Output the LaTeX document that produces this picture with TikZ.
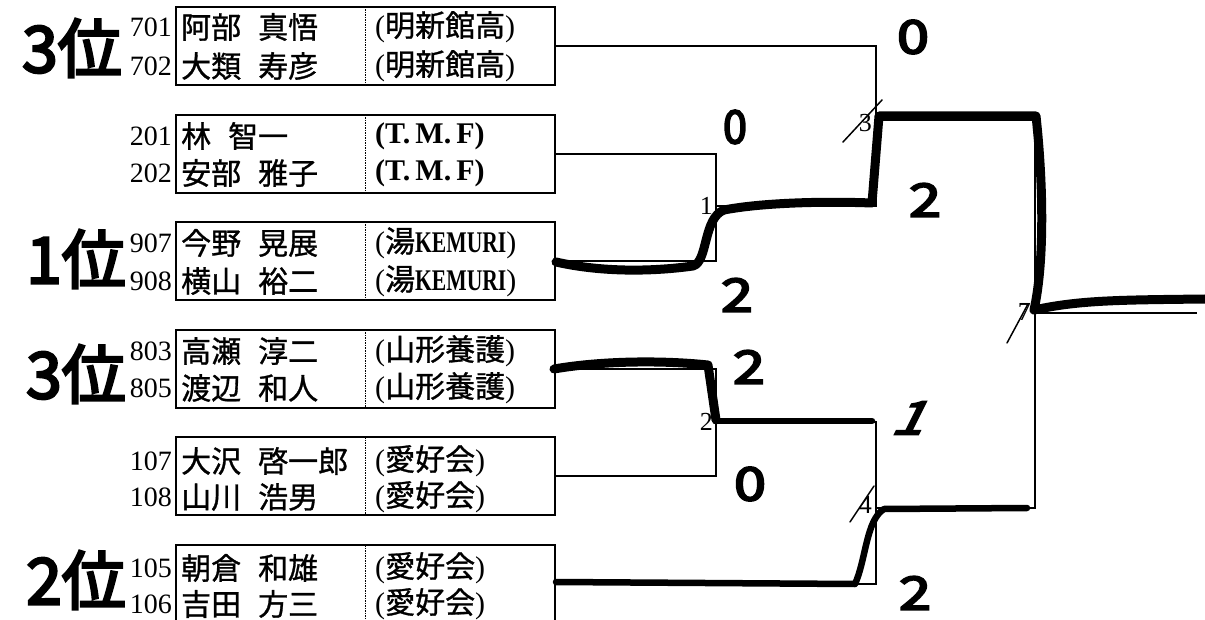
\documentclass[tikz,border=0pt]{standalone}
\usepackage{fontspec}
\setmainfont{Liberation Serif}
\newfontfamily\jp[FakeBold=1]{Noto Sans CJK JP}
\newfontfamily\hw[FakeBold=4]{Noto Sans CJK JP}
\newcommand{\gap}{\hspace{17pt}}
\begin{document}
\begin{tikzpicture}[x=1pt,y=-1pt]
\tikzset{
  entry/.style={draw, line width=2pt, minimum width=379pt, minimum height=78pt, inner sep=0pt, outer sep=0pt},
  bracket/.style={line width=1.6pt},
  divider/.style={line width=1.5pt, densely dotted},
  win/.style={line width=9pt, line cap=round, line join=round},
  winthin/.style={line width=6.5pt, line cap=round, line join=round},
  pen/.style={line width=1.5pt, line cap=round},
  num/.style={anchor=east, inner sep=0pt, font=\fontsize{28}{28}\selectfont},
  nm/.style={anchor=west, inner sep=0pt, font=\jp\fontsize{30}{30}\selectfont},
  aff/.style={anchor=west, inner sep=0pt, font=\fontsize{30}{30}\selectfont},
  mlabel/.style={anchor=east, inner sep=0pt, font=\fontsize{26}{26}\selectfont},
  score/.style={inner sep=0pt, xscale=1.25, font=\hw\fontsize{46}{46}\selectfont},
  rank/.style={inner sep=0pt, font=\hw\fontsize{64}{64}\selectfont},
}
\useasboundingbox (0,0) rectangle (1205,620);
\fill[white] (0,0) rectangle (1205,620);

% ---- entry boxes ----
\node[entry] (b1) at (365.5,46) {};
\node[entry] (b2) at (365.5,154) {};
\node[entry] (b3) at (365.5,261) {};
\node[entry] (b4) at (365.5,369) {};
\node[entry] (b5) at (365.5,476) {};
\node[entry] (b6) at (365.5,584) {};
\foreach \b in {b1,b2,b3,b4,b5,b6} \draw[divider] (\b.north) -- (\b.south);

% ---- hand-written ranks (under the printed text) ----
\node[rank] (r1) at (72,48) {3位};
\node[rank] (r2) at (76,259) {1位};
\node[rank] (r3) at (76,374) {3位};
\node[rank] (r4) at (76,580) {2位};

% ---- rows ----
\node[num] (n701) at (172,27) {701};
\node[nm]  (p701) at (181,27) {阿部\gap 真悟};
\node[aff] (a701) at (375,27) {(\jp 明新館高\rmfamily)};
\node[num] (n702) at (172,66) {702};
\node[nm]  (p702) at (181,66) {大類\gap 寿彦};
\node[aff] (a702) at (375,66) {(\jp 明新館高\rmfamily)};

\node[num] (n201) at (172,136) {201};
\node[nm]  (p201) at (181,136) {林\gap 智一};
\node[aff] (a201) at (375,136) {\bfseries(T.\,M.\,F)};
\node[num] (n202) at (172,173) {202};
\node[nm]  (p202) at (181,173) {安部\gap 雅子};
\node[aff] (a202) at (375,173) {\bfseries(T.\,M.\,F)};

\node[num] (n907) at (172,243) {907};
\node[nm]  (p907) at (181,243) {今野\gap 晃展};
\node[aff] (a907) at (375,243) {(\jp 湯\rmfamily\bfseries\scalebox{0.72}[1]{KEMURI}\mdseries)};
\node[num] (n908) at (172,281) {908};
\node[nm]  (p908) at (181,281) {横山\gap 裕二};
\node[aff] (a908) at (375,281) {(\jp 湯\rmfamily\bfseries\scalebox{0.72}[1]{KEMURI}\mdseries)};

\node[num] (n803) at (172,351) {803};
\node[nm]  (p803) at (181,351) {高瀬\gap 淳二};
\node[aff] (a803) at (375,351) {(\jp 山形養護\rmfamily)};
\node[num] (n805) at (172,388) {805};
\node[nm]  (p805) at (181,388) {渡辺\gap 和人};
\node[aff] (a805) at (375,388) {(\jp 山形養護\rmfamily)};

\node[num] (n107) at (172,461) {107};
\node[nm]  (p107) at (181,461) {大沢\gap 啓一郎};
\node[aff] (a107) at (375,461) {(\jp 愛好会\rmfamily)};
\node[num] (n108) at (172,497) {108};
\node[nm]  (p108) at (181,497) {山川\gap 浩男};
\node[aff] (a108) at (375,497) {(\jp 愛好会\rmfamily)};

\node[num] (n105) at (172,568) {105};
\node[nm]  (p105) at (181,568) {朝倉\gap 和雄};
\node[aff] (a105) at (375,568) {(\jp 愛好会\rmfamily)};
\node[num] (n106) at (172,604) {106};
\node[nm]  (p106) at (181,604) {吉田\gap 方三};
\node[aff] (a106) at (375,604) {(\jp 愛好会\rmfamily)};

% ---- bracket ----
\coordinate (m1) at (716,206);
\coordinate (m2) at (716,422);
\coordinate (m3) at (876,120);
\coordinate (m4) at (876,508);
\coordinate (m7) at (1035,313);
\coordinate (fin) at (1197,313);
\draw[bracket] (b2.east) -| (m1);
\draw[bracket] (b3.east) -| (m1);
\draw[bracket] (b4.east) -| (m2);
\draw[bracket] (b5.east) -| (m2);
\draw[bracket] (b1.east) -| (m3);
\draw[bracket] (m1) -| (m3);
\draw[bracket] (m2) -| (m4);
\draw[bracket] (b6.east) -| (m4);
\draw[bracket] (m3) -| (m7);
\draw[bracket] (m4) -| (m7);
\draw[bracket] (m7) -- (fin);

% ---- match numbers ----
\node[mlabel] (l1) at (713,206) {1};
\node[mlabel] (l2) at (713,422) {2};
\node[mlabel] (l3) at (872,123) {3};
\node[mlabel] (l4) at (872,505) {4};
\node[mlabel] (l7) at (1031,312) {7};
\draw[pen] (843,142) -- (882,100);
\draw[pen] (850,522) -- (874,486);
\draw[pen] (1007,343) -- (1028,304);

% ---- hand-drawn winner paths ----
\draw[win] (556,262) .. controls (600,272) and (650,272) .. (693,266)
  .. controls (708,262) and (703,218) .. (724,210)
  .. controls (760,203) and (820,201) .. (872,203)
  -- (879,116) -- (1036,116)
  .. controls (1043,180) and (1045,260) .. (1034,310)
  .. controls (1080,300) and (1120,300) .. (1205,299);
\draw[win] (554,369) .. controls (600,361) and (660,360) .. (708,365) -- (716,420);
\draw[winthin] (716,421) -- (872,421);
\draw[winthin] (556,582) -- (855,584) .. controls (866,560) and (866,520) .. (884,509) -- (1027,508);

% ---- hand-written scores ----
\node[score] (s1) at (913,37) {0};
\node[score, xscale=0.75] (s2) at (735,127) {0};
\node[score] (s3) at (925,200) {2};
\node[score] (s4) at (737,295) {2};
\node[score] (s5) at (749,367) {2};
\node[score, xslant=0.4] (s6) at (914,418) {1};
\node[score] (s7) at (750,484) {0};
\node[score] (s8) at (915,593) {2};
\end{tikzpicture}
\end{document}
